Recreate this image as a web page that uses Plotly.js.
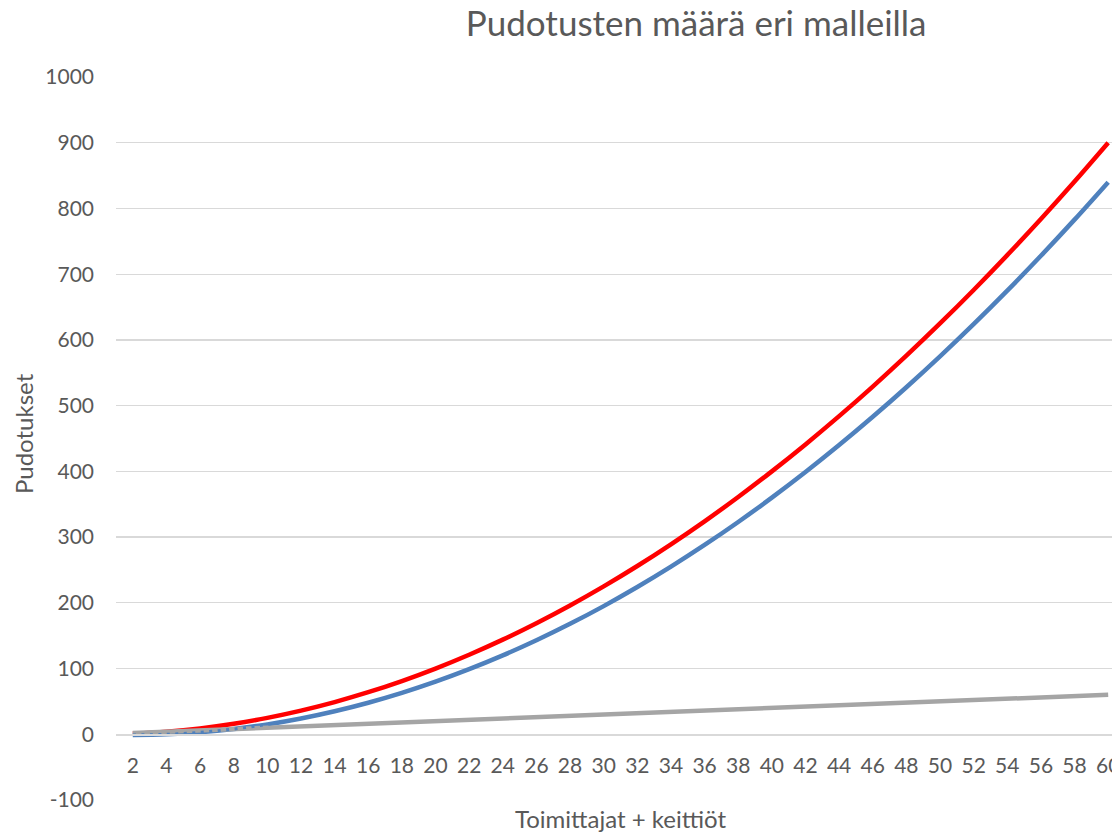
<!DOCTYPE html>
<html>
<head>
<meta charset="utf-8">
<script src="https://cdn.plot.ly/plotly-3.0.1.min.js"></script>
<style>
html,body{margin:0;padding:0;overflow:hidden;background:#fff;}
#chart{width:1130px;height:833px;}
</style>
</head>
<body>
<div id="chart"></div>
<script>
const xValues = [2,4,6,8,10,12,14,16,18,20,22,24,26,28,30,32,34,36,38,40,42,44,46,48,50,52,54,56,58,60];
const redSeries = [1,4,9,16,25,36,49,64,81,100,121,144,169,196,225,256,289,324,361,400,441,484,529,576,625,676,729,784,841,900];
const blueSeries = [-1,0,3,8,15,24,35,48,63,80,99,120,143,168,195,224,255,288,323,360,399,440,483,528,575,624,675,728,783,840];
const graySeries = [2,4,6,8,10,12,14,16,18,20,22,24,26,28,30,32,34,36,38,40,42,44,46,48,50,52,54,56,58,60];
const dottedSeries = [-1,0,3,8,15,24,35,48,63,80,99,120,143,168,195,224,255,288,323,360,399,440,483,528,575,624,675,728,783,840];
const yTicks = [-100,0,100,200,300,400,500,600,700,800,900,1000];

const FONT = 'Lato, "Open Sans", sans-serif';
const TXT = '#595959';

const traces = [
  {x:xValues, y:redSeries, mode:'lines', line:{color:'#FF0000', width:4.5, shape:'spline', smoothing:1}},
  {x:xValues, y:blueSeries, mode:'lines', line:{color:'#4F81BD', width:4.5, shape:'spline', smoothing:1}},
  {x:xValues, y:graySeries, mode:'lines', line:{color:'#A5A5A5', width:4.5}},
  {x:xValues, y:dottedSeries, mode:'lines', line:{color:'#4F81BD', width:3, dash:'3px,5.5px', shape:'spline', smoothing:1}}
];

const layout = {
  width:1130, height:833,
  margin:{l:116, r:5, t:77, b:33},
  paper_bgcolor:'#fff', plot_bgcolor:'#fff',
  showlegend:false,
  font:{family:FONT, color:TXT, size:21},
  title:{text:'Pudotusten määrä eri malleilla', font:{family:FONT, size:35, color:TXT},
         xref:'paper', x:0.575, xanchor:'center', yref:'container', y:1-24/833, yanchor:'middle'},
  xaxis:{
    type:'linear', range:[1,61], tickmode:'array', tickvals:xValues, ticktext:xValues.map(String),
    showgrid:false, zeroline:false, showline:true, linecolor:'#D9D9D9', linewidth:1.3,
    anchor:'free', position:100/1100, ticks:'', ticklabelstandoff:12,
    tickfont:{family:FONT, size:21, color:TXT}
  },
  yaxis:{
    range:[-100,1000], tickmode:'array', tickvals:yTicks, ticktext:yTicks.map(String),
    showgrid:true, gridcolor:'#D9D9D9', gridwidth:1.3, zeroline:false, showline:false,
    ticks:'', ticklabelstandoff:21, tickfont:{family:FONT, size:21, color:TXT}
  },
  annotations:[
    {text:'Toimittajat + keittiöt', xref:'paper', yref:'paper', x:0.5, y:-19/723, xanchor:'center', yanchor:'middle',
     showarrow:false, font:{family:FONT, size:24, color:TXT}},
    {text:'Pudotukset', xref:'paper', yref:'paper', x:-(116-23)/1009, y:(800-434)/723, xanchor:'center', yanchor:'middle',
     textangle:-90, showarrow:false, font:{family:FONT, size:24, color:TXT}}
  ]
};

Plotly.newPlot('chart', traces, layout, {displayModeBar:false, staticPlot:true});
</script>
</body>
</html>
